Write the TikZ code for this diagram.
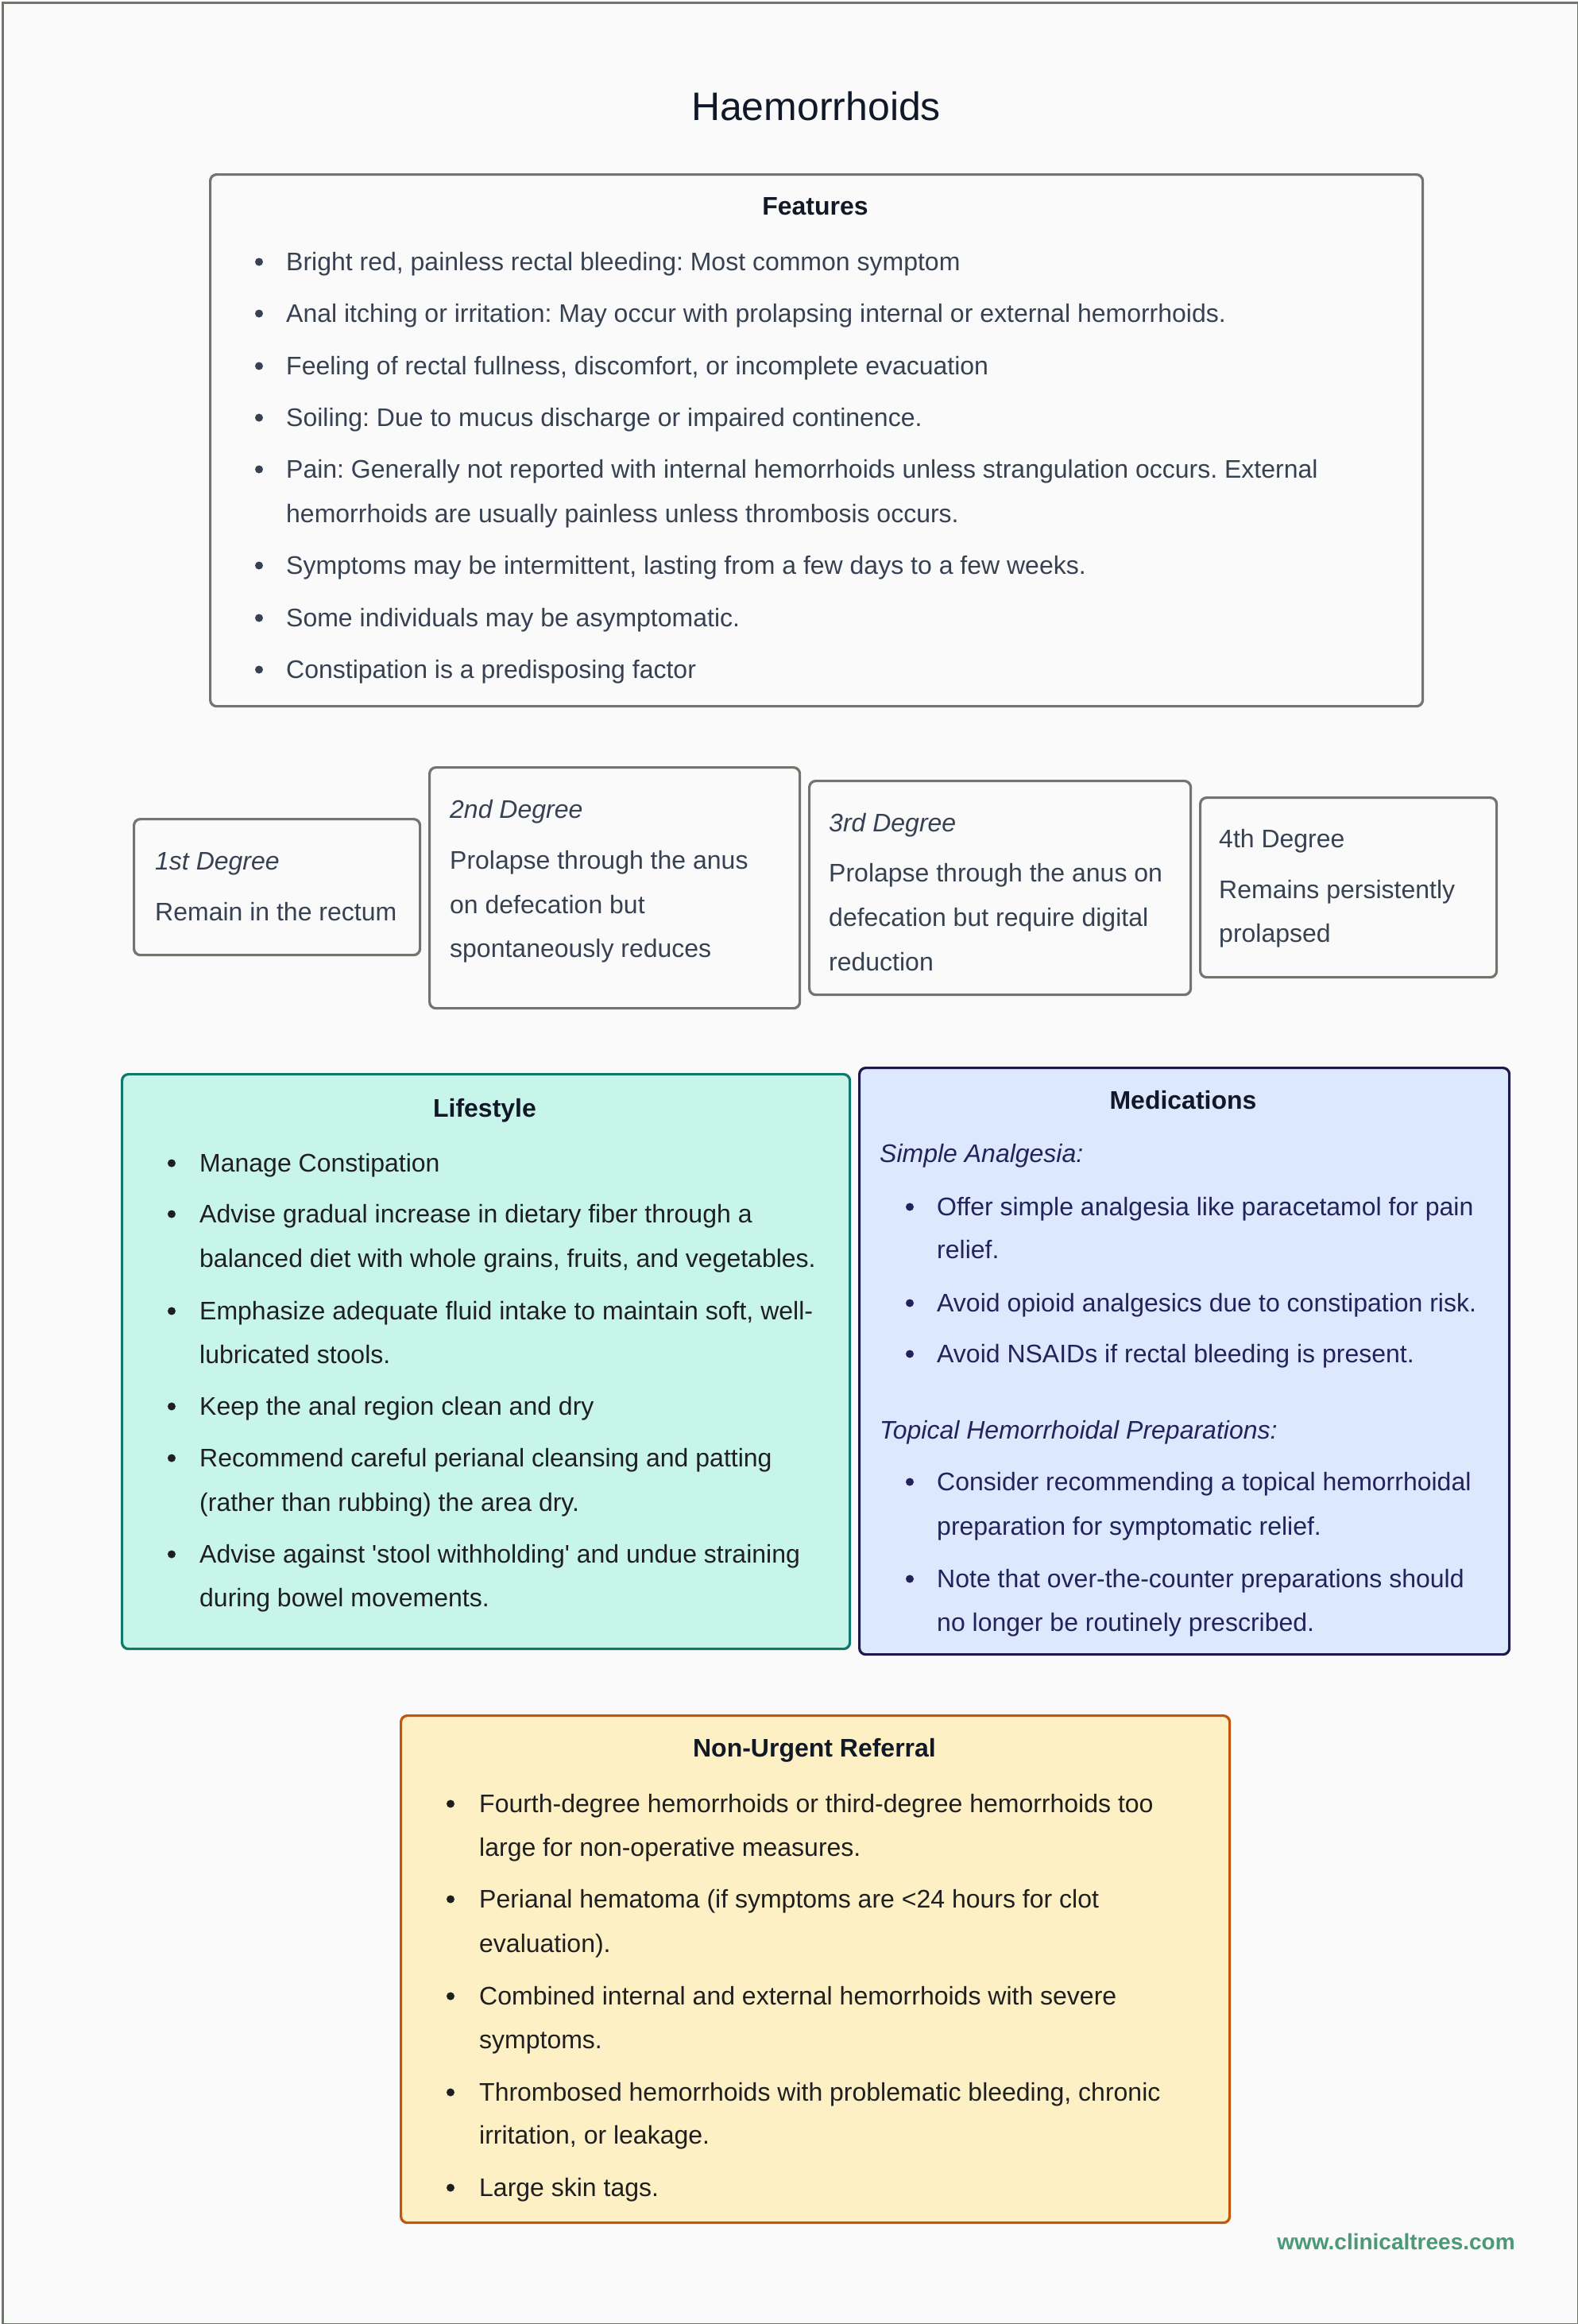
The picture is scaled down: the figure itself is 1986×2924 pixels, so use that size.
\documentclass[tikz,border=0pt]{standalone}
\usepackage{fontspec}
\setmainfont{Liberation Sans}
\frenchspacing
\definecolor{bg}{HTML}{FAFAFA}
\definecolor{frame}{HTML}{70756D}
\definecolor{ctext}{HTML}{374151}
\definecolor{chead}{HTML}{111827}
\definecolor{lfill}{HTML}{C8F5EA}
\definecolor{ldraw}{HTML}{11786B}
\definecolor{mfill}{HTML}{DBE8FE}
\definecolor{mdraw}{HTML}{1E1B4B}
\definecolor{mtext}{HTML}{23235B}
\definecolor{rfill}{HTML}{FDF0C4}
\definecolor{rdraw}{HTML}{C2560C}
\definecolor{foot}{HTML}{4A9978}
\newcommand{\bodyfont}{\fontsize{32}{38}\selectfont}
\newcommand{\bitem}[5]{%
  \node[bul] (#1b) at ({#2},{#4-10.5}) {};
  \node[txt] (#1) at (#3,#4) {#5};}
\tikzset{
  txt/.style={anchor=base west, inner sep=0pt, font=\bodyfont},
  bul/.style={circle, inner sep=0pt, minimum size=10pt, draw=none, fill=.},
  head/.style={anchor=base, inner sep=0pt, font=\bodyfont\bfseries, text=chead},
  panel/.style={draw, line width=3.2pt, rounded corners=8pt, anchor=north west, inner sep=0pt},
}
\begin{document}
\begin{tikzpicture}[x=1pt,y=-1pt]
\useasboundingbox (0,0) rectangle (1986,2924);
\node[draw=frame, line width=3pt, fill=bg, anchor=north west, minimum width=1983pt, minimum height=2921pt, inner sep=0pt] (page) at (1.5,1.5) {};

\node[anchor=base, inner sep=0pt, font=\fontsize{50}{60}\selectfont, text=chead] (title) at (1027,151) {Haemorrhoids};

% Features
\node[panel, draw=frame, fill=bg, minimum width=1526pt, minimum height=669pt] (feat) at (263,218) {};
\node[head] (feath) at (1026,270) {Features};
\begin{scope}[every node/.append style={text=ctext}, bul/.append style={fill=ctext}]
\bitem{f1}{326}{360}{340}{Bright red, painless rectal bleeding: Most common symptom}
\bitem{f2}{326}{360}{405}{Anal itching or irritation: May occur with prolapsing internal or external hemorrhoids.}
\bitem{f3}{326}{360}{471}{Feeling of rectal fullness, discomfort, or incomplete evacuation}
\bitem{f4}{326}{360}{536}{Soiling: Due to mucus discharge or impaired continence.}
\bitem{f5}{326}{360}{601}{Pain: Generally not reported with internal hemorrhoids unless strangulation occurs. External}
\node[txt] (f5c) at (360,657) {hemorrhoids are usually painless unless thrombosis occurs.};
\bitem{f6}{326}{360}{722}{Symptoms may be intermittent, lasting from a few days to a few weeks.}
\bitem{f7}{326}{360}{788}{Some individuals may be asymptomatic.}
\bitem{f8}{326}{360}{853}{Constipation is a predisposing factor}
\end{scope}

% Degrees
\node[panel, draw=frame, fill=bg, minimum width=360pt, minimum height=171pt] (d1) at (167,1029) {};
\node[panel, draw=frame, fill=bg, minimum width=466pt, minimum height=303pt] (d2) at (539,964) {};
\node[panel, draw=frame, fill=bg, minimum width=480pt, minimum height=269pt] (d3) at (1017,981) {};
\node[panel, draw=frame, fill=bg, minimum width=373pt, minimum height=226pt] (d4) at (1509,1002) {};
\begin{scope}[every node/.append style={text=ctext}]
\node[txt, font=\bodyfont\itshape] (d1t) at (195,1094) {1st Degree};
\node[txt] (d1a) at (195,1158) {Remain in the rectum};
\node[txt, font=\bodyfont\itshape] (d2t) at (566,1029) {2nd Degree};
\node[txt] (d2a) at (566,1093) {Prolapse through the anus};
\node[txt] (d2b) at (566,1149) {on defecation but};
\node[txt] (d2c) at (566,1204) {spontaneously reduces};
\node[txt, font=\bodyfont\itshape] (d3t) at (1043,1046) {3rd Degree};
\node[txt] (d3a) at (1043,1109) {Prolapse through the anus on};
\node[txt] (d3b) at (1043,1165) {defecation but require digital};
\node[txt] (d3c) at (1043,1221) {reduction};
\node[txt] (d4t) at (1534,1066) {4th Degree};
\node[txt] (d4a) at (1534,1130) {Remains persistently};
\node[txt] (d4b) at (1534,1185) {prolapsed};
\end{scope}

% Lifestyle
\node[panel, draw=ldraw, fill=lfill, minimum width=916pt, minimum height=723pt] (life) at (152,1350) {};
\node[head] (lifeh) at (610,1405) {Lifestyle};
\begin{scope}[every node/.append style={text=black!88}, bul/.append style={fill=black!88}]
\bitem{l1}{216}{251}{1474}{Manage Constipation}
\bitem{l2}{216}{251}{1538}{Advise gradual increase in dietary fiber through a}
\node[txt] (l2c) at (251,1594) {balanced diet with whole grains, fruits, and vegetables.};
\bitem{l3}{216}{251}{1660}{Emphasize adequate fluid intake to maintain soft, well-}
\node[txt] (l3c) at (251,1715) {lubricated stools.};
\bitem{l4}{216}{251}{1780}{Keep the anal region clean and dry}
\bitem{l5}{216}{251}{1845}{Recommend careful perianal cleansing and patting}
\node[txt] (l5c) at (251,1901) {(rather than rubbing) the area dry.};
\bitem{l6}{216}{251}{1966}{Advise against \textquotesingle stool withholding\textquotesingle{} and undue straining}
\node[txt] (l6c) at (251,2021) {during bowel movements.};
\end{scope}

% Medications
\node[panel, draw=mdraw, fill=mfill, minimum width=818pt, minimum height=738pt] (med) at (1080,1342) {};
\node[head] (medh) at (1489,1395) {Medications};
\begin{scope}[every node/.append style={text=mtext}, bul/.append style={fill=mtext}]
\node[txt, font=\bodyfont\itshape] (ms1) at (1107,1462) {Simple Analgesia:};
\bitem{m1}{1145}{1179}{1529}{Offer simple analgesia like paracetamol for pain}
\node[txt] (m1c) at (1179,1583) {relief.};
\bitem{m2}{1145}{1179}{1650}{Avoid opioid analgesics due to constipation risk.}
\bitem{m3}{1145}{1179}{1714}{Avoid NSAIDs if rectal bleeding is present.}
\node[txt, font=\bodyfont\itshape] (ms2) at (1107,1810) {Topical Hemorrhoidal Preparations:};
\bitem{m4}{1145}{1179}{1875}{Consider recommending a topical hemorrhoidal}
\node[txt] (m4c) at (1179,1931) {preparation for symptomatic relief.};
\bitem{m5}{1145}{1179}{1997}{Note that over-the-counter preparations should}
\node[txt] (m5c) at (1179,2052) {no longer be routinely prescribed.};
\end{scope}

% Non-urgent referral
\node[panel, draw=rdraw, fill=rfill, minimum width=1043pt, minimum height=638pt] (ref) at (503,2157) {};
\node[head] (refh) at (1025,2210) {Non-Urgent Referral};
\begin{scope}[every node/.append style={text=black!88}, bul/.append style={fill=black!88}]
\bitem{r1}{567}{603}{2280}{Fourth-degree hemorrhoids or third-degree hemorrhoids too}
\node[txt] (r1c) at (603,2335) {large for non-operative measures.};
\bitem{r2}{567}{603}{2400}{Perianal hematoma (if symptoms are <24 hours for clot}
\node[txt] (r2c) at (603,2456) {evaluation).};
\bitem{r3}{567}{603}{2522}{Combined internal and external hemorrhoids with severe}
\node[txt] (r3c) at (603,2577) {symptoms.};
\bitem{r4}{567}{603}{2643}{Thrombosed hemorrhoids with problematic bleeding, chronic}
\node[txt] (r4c) at (603,2697) {irritation, or leakage.};
\bitem{r5}{567}{603}{2763}{Large skin tags.}
\end{scope}

\node[anchor=base, inner sep=0pt, font=\fontsize{28}{34}\selectfont\bfseries, text=foot] (footer) at (1757,2830) {www.clinicaltrees.com};
\end{tikzpicture}
\end{document}
